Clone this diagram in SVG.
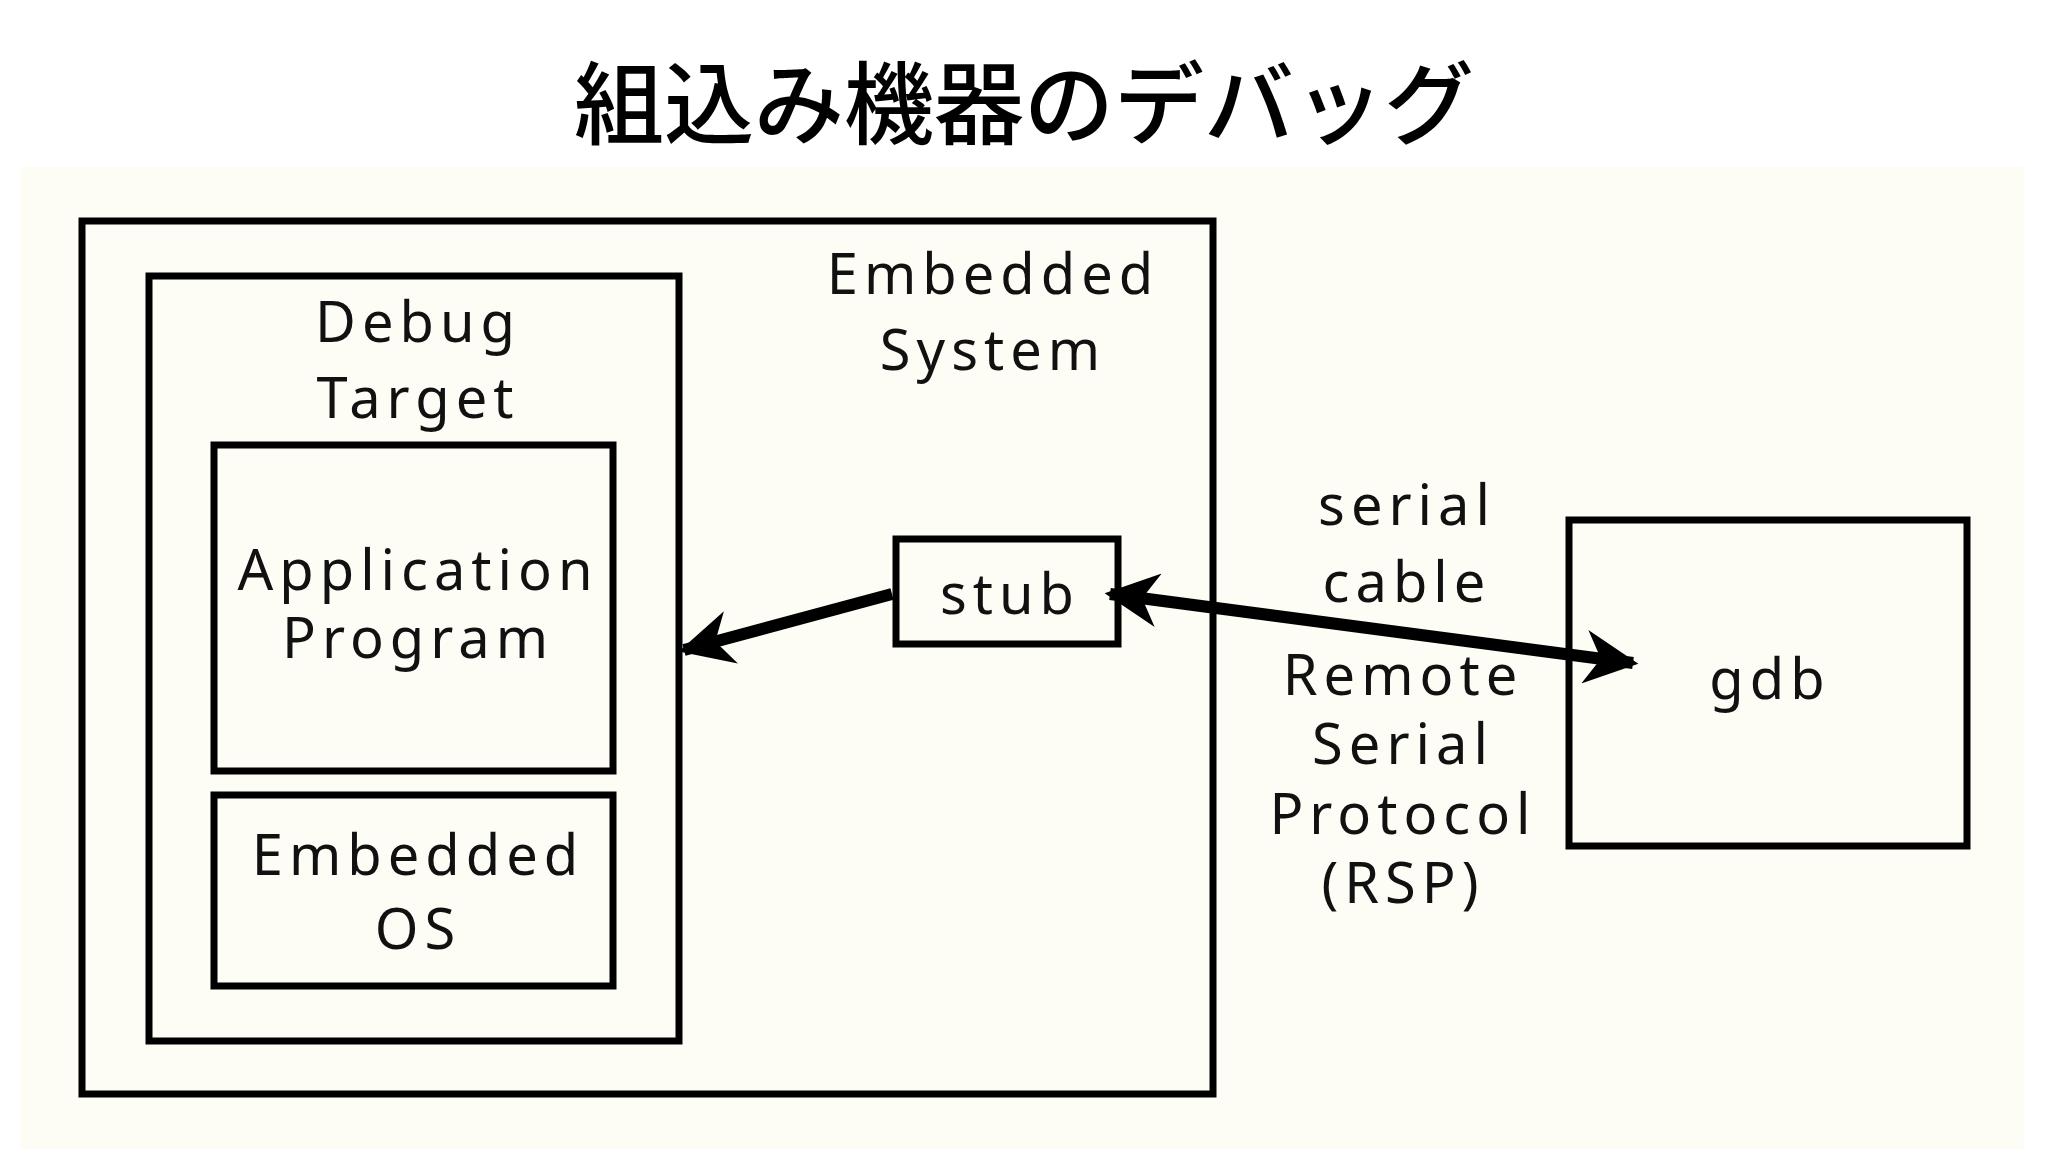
<svg xmlns="http://www.w3.org/2000/svg" width="2048" height="1154" viewBox="0 0 2048 1154">
<style>
.b{fill:none;stroke:#000;stroke-width:7}
.t{font-family:"Noto Sans","DejaVu Sans",sans-serif;font-size:56px;text-anchor:middle;fill:#111;letter-spacing:6px}
.c{stroke:#000;stroke-width:12;fill:none}
</style>
<defs>
<marker id="ah" viewBox="0 0 10 10" refX="9" refY="5" markerWidth="5" markerHeight="4.5" orient="auto-start-reverse" markerUnits="strokeWidth">
<path d="M0,0 L10,5 L0,10 L3,5 z" fill="#000"/>
</marker>
</defs>
<rect width="2048" height="1154" fill="#fff"/>
<rect x="20" y="167" width="2004" height="982" fill="#fdfdf5"/>
<text x="1024" y="137" font-family="'Noto Sans CJK JP',sans-serif" font-size="90" text-anchor="middle" font-weight="500">組込み機器のデバッグ</text>
<g id="embedded-system"><rect class="b" x="82" y="221" width="1131" height="873"/>
<text class="t" x="993" y="294">Embedded</text><text class="t" x="993" y="370">System</text></g>
<g id="debug-target"><rect class="b" x="149" y="276" width="530" height="765"/>
<text class="t" x="418" y="342">Debug</text><text class="t" x="418" y="418">Target</text></g>
<g id="app"><rect class="b" x="214" y="445" width="399" height="326"/>
<text class="t" x="418" y="590" font-size="52" letter-spacing="4">Application</text><text class="t" x="418" y="658" font-size="52" letter-spacing="4">Program</text></g>
<g id="os"><rect class="b" x="214" y="795" width="399" height="191"/>
<text class="t" x="418" y="875" letter-spacing="5">Embedded</text><text class="t" x="418" y="949">OS</text></g>
<g id="stub"><rect class="b" x="896" y="539" width="222" height="105"/>
<text class="t" x="1010" y="614">stub</text></g>
<g id="gdb"><rect class="b" x="1569" y="520" width="398" height="326"/>
<text class="t" x="1770" y="699">gdb</text></g>
<g id="labels">
<text class="t" x="1407" y="525">serial</text><text class="t" x="1407" y="602">cable</text>
<text class="t" x="1403" y="695" font-size="52" letter-spacing="5">Remote</text><text class="t" x="1403" y="764" font-size="52" letter-spacing="5">Serial</text>
<text class="t" x="1403" y="834" font-size="52" letter-spacing="4">Protocol</text><text class="t" x="1403" y="903" font-size="52" letter-spacing="5">(RSP)</text>
</g>
<g id="connectors">
<line class="c" x1="892" y1="594" x2="684" y2="650" marker-end="url(#ah)"/>
<line class="c" x1="1110" y1="594" x2="1633" y2="663" marker-start="url(#ah)" marker-end="url(#ah)"/>
</g>
</svg>
